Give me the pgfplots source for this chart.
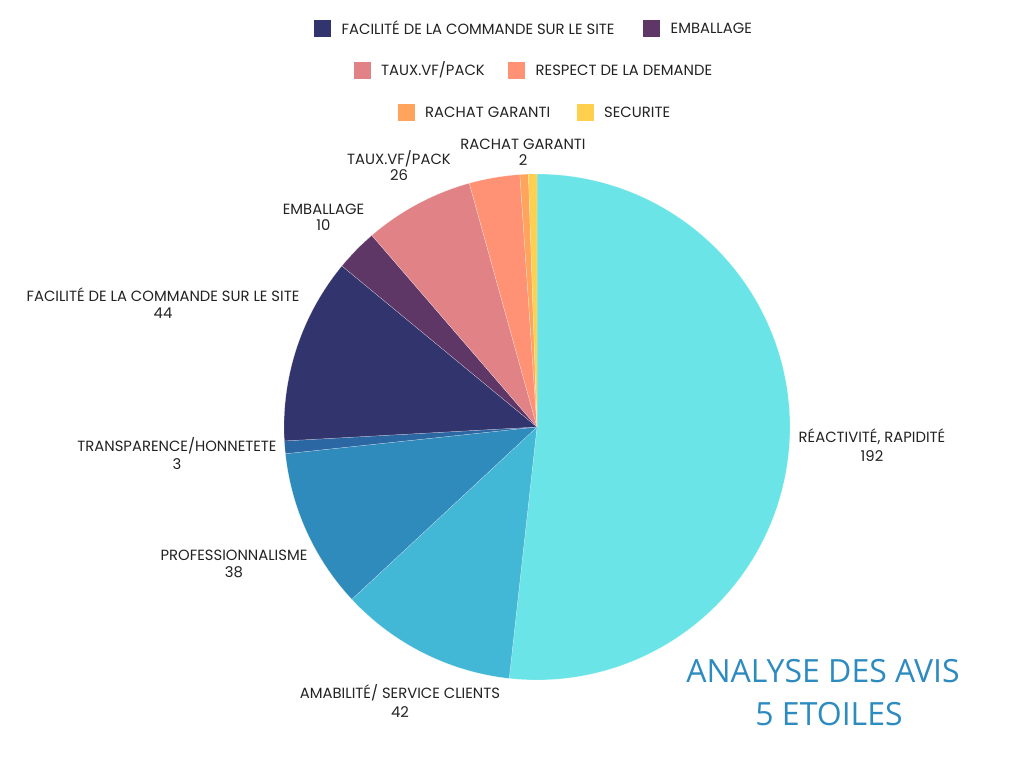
\documentclass[border=0pt]{standalone}
\usepackage{fontspec}
\usepackage{pgfplots}
\pgfplotsset{compat=1.18}
\newfontfamily\lab{Poppins}
\newfontfamily\ttl{Open Sans}
\definecolor{cReact}{HTML}{6BE4E8}
\definecolor{cAmab}{HTML}{42B7D6}
\definecolor{cProf}{HTML}{2E8BBB}
\definecolor{cTrans}{HTML}{2B67A3}
\definecolor{cFac}{HTML}{32346E}
\definecolor{cEmb}{HTML}{5E3766}
\definecolor{cTaux}{HTML}{E08286}
\definecolor{cResp}{HTML}{FF9274}
\definecolor{cRach}{HTML}{FFA45C}
\definecolor{cSec}{HTML}{FFD04D}
\definecolor{cTitle}{HTML}{2E8BC0}
\definecolor{cText}{HTML}{222222}
% values: 192, 42, 38, 3, 44, 10, 26, 12, 2, 2  (total 371)
\pgfmathsetmacro\aA{90}
\pgfmathsetmacro\aB{90-(192)/371*360}
\pgfmathsetmacro\aC{90-(192+42)/371*360}
\pgfmathsetmacro\aD{90-(192+42+38)/371*360}
\pgfmathsetmacro\aE{90-(192+42+38+3)/371*360}
\pgfmathsetmacro\aF{90-(192+42+38+3+44)/371*360}
\pgfmathsetmacro\aG{90-(192+42+38+3+44+10)/371*360}
\pgfmathsetmacro\aH{90-(192+42+38+3+44+10+26)/371*360}
\pgfmathsetmacro\aI{90-(192+42+38+3+44+10+26+12)/371*360}
\pgfmathsetmacro\aJ{90-(192+42+38+3+44+10+26+12+2)/371*360}
\pgfmathsetmacro\aK{90-(192+42+38+3+44+10+26+12+2+2)/371*360}
\newcommand\slice[3]{%
  \addplot[fill=#1, draw=white, draw opacity=0.6, line width=0.25pt, domain=#3:#2, samples=120, variable=\t]
    ({537+253*cos(\t)},{341+253*sin(\t)}) -- (axis cs:537,341) -- cycle;}
\newcommand\lbl[5]{%
  \node[anchor=base, text=cText, inner sep=0pt, font=\lab\fontsize{14.8}{16}\selectfont] at (axis cs:#1,#2) {#4};
  \node[anchor=base, text=cText, inner sep=0pt, font=\lab\fontsize{14.8}{16}\selectfont] at (axis cs:#1,#3) {#5};}
\newcommand\leg[4]{%
  \addplot[only marks, mark=square*, mark size=8pt, color=#1, mark options={draw=none}] coordinates {(#2,#3)};
  \node[anchor=west, text=cText, inner sep=0pt, font=\lab\fontsize{14.8}{16}\selectfont] at (axis cs:#2+19,#3) {#4};}
\begin{document}
\begin{tikzpicture}
\path[use as bounding box] (0,0) rectangle (1024pt,768pt);
\begin{axis}[
  scale only axis, width=1024pt, height=768pt,
  xmin=0, xmax=1024, ymin=0, ymax=768,
  hide axis, clip=false]
\slice{cReact}{\aA}{\aB}
\slice{cAmab}{\aB}{\aC}
\slice{cProf}{\aC}{\aD}
\slice{cTrans}{\aD}{\aE}
\slice{cFac}{\aE}{\aF}
\slice{cEmb}{\aF}{\aG}
\slice{cTaux}{\aG}{\aH}
\slice{cResp}{\aH}{\aI}
\slice{cRach}{\aI}{\aJ}
\slice{cSec}{\aJ}{\aK}
% labels (x, baseline1, baseline2 in flipped coords)
\lbl{872}{325}{306}{RÉACTIVITÉ, RAPIDITÉ}{192}
\lbl{400}{70}{51}{AMABILITÉ/ SERVICE CLIENTS}{42}
\lbl{234}{207}{190}{PROFESSIONNALISME}{38}
\lbl{177}{316}{298}{TRANSPARENCE/HONNETETE}{3}
\lbl{163}{466}{449}{FACILITÉ DE LA COMMANDE SUR LE SITE}{44}
\lbl{323.5}{553}{537}{EMBALLAGE}{10}
\lbl{399}{603.5}{587}{TAUX.VF/PACK}{26}
\lbl{523}{618}{602}{RACHAT GARANTI}{2}
% legend
\leg{cFac}{322.5}{740}{FACILITÉ DE LA COMMANDE SUR LE SITE}
\leg{cEmb}{651.5}{740}{EMBALLAGE}
\leg{cTaux}{362}{698}{TAUX.VF/PACK}
\leg{cResp}{516.5}{698}{RESPECT DE LA DEMANDE}
\leg{cRach}{406}{656}{RACHAT GARANTI}
\leg{cSec}{585}{656}{SECURITE}
% title
\node[anchor=base, text=cTitle, inner sep=0pt, font=\ttl\fontsize{32}{36}\selectfont] at (axis cs:823,85) {ANALYSE DES AVIS};
\node[anchor=base, text=cTitle, inner sep=0pt, font=\ttl\fontsize{32}{36}\selectfont] at (axis cs:829,43) {5 ETOILES};
\end{axis}
\end{tikzpicture}
\end{document}
